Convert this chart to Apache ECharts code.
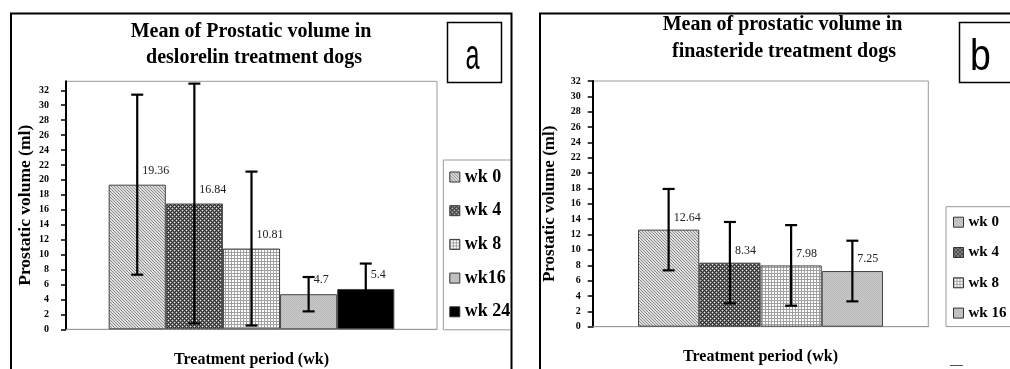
<!DOCTYPE html>
<html>
<head>
<meta charset="utf-8">
<script src="https://cdn.jsdelivr.net/npm/echarts@6/dist/echarts.min.js"></script>
<style>
  html, body {margin: 0; padding: 0; background: #fff;}
  #main {width: 1010px; height: 369px;}
</style>
</head>
<body>
<div id="main"></div>
<script>
// panel a: deslorelin
const weeksA = ['wk 0', 'wk 4', 'wk 8', 'wk16', 'wk 24'];
const meanA = [19.36, 16.84, 10.81, 4.7, 5.4];
const errA = [12.05, 16.05, 10.3, 2.3, 3.4];
// panel b: finasteride
const weeksB = ['wk 0', 'wk 4', 'wk 8', 'wk 16'];
const meanB = [12.64, 8.34, 7.98, 7.25];
const errB = [5.3, 5.3, 5.25, 3.95];
const yTicks = [0, 2, 4, 6, 8, 10, 12, 14, 16, 18, 20, 22, 24, 26, 28, 30, 32];

const serif = '"Liberation Serif", "Times New Roman", serif';

// Excel-like fill patterns
function pattern(size, draw) {
  const c = document.createElement('canvas');
  c.width = c.height = size;
  draw(c.getContext('2d'));
  return {image: c, repeat: 'repeat'};
}
function px(ctx, x, y, col) { ctx.fillStyle = col; ctx.fillRect(x, y, 1, 1); }

const fills = [
  pattern(3, ctx => { // fine downward diagonal
    for (let y = 0; y < 3; y++) for (let x = 0; x < 3; x++)
      px(ctx, x, y, ((x - y + 6) % 3) === 0 ? '#8c8c8c' : '#dedede');
  }),
  pattern(4, ctx => { // dark checker
    for (let y = 0; y < 4; y++) for (let x = 0; x < 4; x++)
      px(ctx, x, y, (x + y) % 2 === 0 ? '#2a2a2a' : '#767676');
    px(ctx, 0, 0, '#e0e0e0'); px(ctx, 2, 2, '#e0e0e0');
  }),
  pattern(3, ctx => { // small grid
    ctx.fillStyle = '#ffffff'; ctx.fillRect(0, 0, 3, 3);
    ctx.fillStyle = '#a0a0a0'; ctx.fillRect(0, 0, 3, 1); ctx.fillRect(0, 0, 1, 3);
  }),
  pattern(2, ctx => { // light grey
    px(ctx, 0, 0, '#bababa'); px(ctx, 1, 1, '#bababa');
    px(ctx, 1, 0, '#c8c8c8'); px(ctx, 0, 1, '#c8c8c8');
  }),
  '#000000'
];

const gapA = 0.23, gapB = 0.27;

function barSeries(names, means, grid, gap, labelDist) {
  return names.map((name, i) => ({
    type: 'bar', name, xAxisIndex: grid, yAxisIndex: grid,
    data: [means[i]],
    barGap: '0%', barCategoryGap: gap * 100 + '%',
    itemStyle: {color: fills[i], borderColor: '#444', borderWidth: 1},
    label: {
      show: true, position: 'top', align: 'left', distance: labelDist, offset: [5, 0],
      fontFamily: serif, fontSize: 12, color: '#222'
    }
  }));
}

function errorSeries(means, errs, grid, gap) {
  const n = means.length;
  return {
    type: 'custom', xAxisIndex: grid, yAxisIndex: grid, z: 5,
    encode: {x: 0, y: 1},
    data: means.map((m, i) => [0, m, errs[i], i]),
    renderItem(params, api) {
      const m = api.value(1), e = api.value(2), i = api.value(3);
      const barW = api.size([1, 0])[0] * (1 - gap) / n;
      const hi = api.coord([0, m + e]), lo = api.coord([0, m - e]);
      const x = hi[0] + (i - (n - 1) / 2) * barW;
      const st = {stroke: '#000', lineWidth: 2.2};
      return {type: 'group', children: [
        {type: 'line', shape: {x1: x, y1: hi[1], x2: x, y2: lo[1]}, style: st},
        {type: 'line', shape: {x1: x - 6, y1: hi[1], x2: x + 6, y2: hi[1]}, style: st},
        {type: 'line', shape: {x1: x - 6, y1: lo[1], x2: x + 6, y2: lo[1]}, style: st}
      ]};
    }
  };
}

function xAxis(grid, gap) {
  return {
    type: 'category', gridIndex: grid, data: [''],
    axisLine: {lineStyle: {color: '#999', width: 1}},
    axisTick: {show: false}, axisLabel: {show: false},
    name: 'Treatment period (wk)', nameLocation: 'middle', nameGap: gap,
    nameTextStyle: {fontFamily: serif, fontWeight: 'bold', fontSize: 16, color: '#000'}
  };
}

function yAxis(grid, max, nameGap, labelMargin, nameSize) {
  return {
    type: 'value', gridIndex: grid, min: 0, max, interval: 2,
    axisLine: {show: true, lineStyle: {color: '#000', width: 2}},
    axisTick: {show: true, length: 5, customValues: yTicks, lineStyle: {color: '#000', width: 1.5}},
    axisLabel: {customValues: yTicks, margin: labelMargin, fontFamily: serif, fontWeight: 'bold', fontSize: 10, color: '#000'},
    splitLine: {show: false},
    name: 'Prostatic volume (ml)', nameLocation: 'middle', nameGap,
    nameTextStyle: {fontFamily: serif, fontWeight: 'bold', fontSize: nameSize, color: '#000'}
  };
}

function legend(names, left, top, pad, gap, size) {
  return {
    data: names, orient: 'vertical', left, top, padding: pad, itemGap: gap,
    itemWidth: 10, itemHeight: 10, icon: 'rect',
    borderColor: '#999', borderWidth: 1, selectedMode: false,
    itemStyle: {borderColor: '#333', borderWidth: 1},
    textStyle: {fontFamily: serif, fontWeight: 'bold', fontSize: size, color: '#000'}
  };
}

function titleLine(text, x, y) {
  return {type: 'text', x, y, style: {text, x: 0, y: 0, textAlign: 'center', textVerticalAlign: 'middle',
    font: 'bold 20px ' + serif, fill: '#000'}};
}

const chart = echarts.init(document.getElementById('main'), null, {renderer: 'canvas'});
chart.setOption({
  backgroundColor: '#fff',
  animation: false,
  grid: [
    {left: 66, top: 81.3, width: 371, height: 248, outerBoundsMode: 'none', containLabel: false,
      show: true, borderColor: '#999', borderWidth: 1},
    {left: 592.7, top: 81, width: 335.6, height: 245.7, outerBoundsMode: 'none', containLabel: false,
      show: true, borderColor: '#999', borderWidth: 1}
  ],
  xAxis: [xAxis(0, 23), xAxis(1, 22)],
  yAxis: [yAxis(0, 33.2, 32, 17, 17.5), yAxis(1, 32, 35, 12, 17)],
  legend: [
    legend(weeksA, 443.3, 160, [8, 20, 9, 6], 15.7, 18),
    legend(weeksB, 946, 206.7, [8, 80, 6, 7], 15.3, 15)
  ],
  series: [
    ...barSeries(weeksA, meanA, 0, gapA, 8),
    errorSeries(meanA, errA, 0, gapA),
    ...barSeries(weeksB, meanB, 1, gapB, 6),
    errorSeries(meanB, errB, 1, gapB)
  ],
  graphic: [
    titleLine('Mean of Prostatic volume in', 251, 32),
    titleLine('deslorelin treatment dogs', 254, 58),
    titleLine('Mean of prostatic volume in', 782.5, 25),
    titleLine('finasteride treatment dogs', 784, 51.7),
    // panel letters
    {type: 'rect', shape: {x: 447.5, y: 22.5, width: 54, height: 60}, style: {fill: '#fff', stroke: '#000', lineWidth: 1.5}},
    {type: 'text', x: 472.5, y: 57, scaleX: 0.6, style: {text: 'a', x: 0, y: 0, textAlign: 'center', textVerticalAlign: 'middle',
      font: '42px "Liberation Sans", Arial, sans-serif', fill: '#000'}},
    {type: 'rect', shape: {x: 959.5, y: 22.5, width: 70, height: 60}, style: {fill: '#fff', stroke: '#000', lineWidth: 1.5}},
    {type: 'text', x: 980.5, y: 57.7, scaleX: 0.85, style: {text: 'b', x: 0, y: 0, textAlign: 'center', textVerticalAlign: 'middle',
      font: '44px "Liberation Sans", Arial, sans-serif', fill: '#000'}},
    // gap between panels hides the clipped legend
    {type: 'rect', z: 100, shape: {x: 512.5, y: 0, width: 26, height: 369}, style: {fill: '#fff'}},
    // panel frames
    {type: 'polyline', z: 101, shape: {points: [[11, 369], [11, 13.5], [511.5, 13.5], [511.5, 369]]}, style: {fill: null, stroke: '#000', lineWidth: 2}},
    {type: 'polyline', z: 101, shape: {points: [[540, 369], [540, 13.5], [1010, 13.5]]}, style: {fill: null, stroke: '#000', lineWidth: 2}},
    {type: 'line', shape: {x1: 950, y1: 365.5, x2: 963, y2: 365.5}, style: {stroke: '#555', lineWidth: 1}}
  ]
});
</script>
</body>
</html>
